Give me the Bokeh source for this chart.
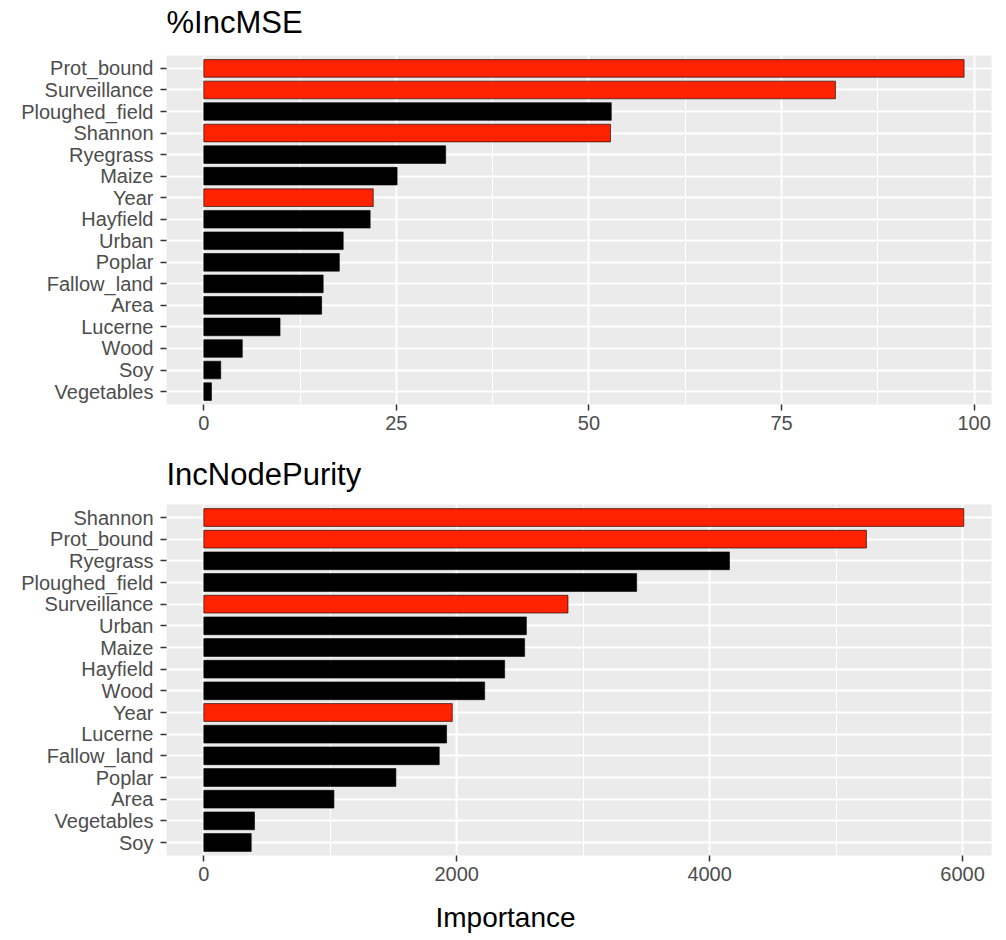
from bokeh.plotting import figure
from bokeh.layouts import column
from bokeh.models import Range1d, FixedTicker, Title, ColumnDataSource
from bokeh.embed import file_html
from bokeh.resources import INLINE

# Variable importance from the random forest, one panel per measure
mse_vars = ["Prot_bound", "Surveillance", "Ploughed_field", "Shannon", "Ryegrass",
            "Maize", "Year", "Hayfield", "Urban", "Poplar", "Fallow_land", "Area",
            "Lucerne", "Wood", "Soy", "Vegetables"]
mse_vals = [98.7, 82.0, 52.9, 52.8, 31.4, 25.1, 22.0, 21.6, 18.1, 17.6, 15.5, 15.3,
            9.9, 5.0, 2.2, 1.0]

purity_vars = ["Shannon", "Prot_bound", "Ryegrass", "Ploughed_field", "Surveillance",
               "Urban", "Maize", "Hayfield", "Wood", "Year", "Lucerne", "Fallow_land",
               "Poplar", "Area", "Vegetables", "Soy"]
purity_vals = [6010, 5240, 4157, 3423, 2880, 2551, 2537, 2379, 2221, 1965, 1920, 1862,
               1519, 1029, 401, 375]

highlighted = ["Prot_bound", "Surveillance", "Shannon", "Year"]

mse_ticks = [0, 25, 50, 75, 100]
mse_minor = [12.5, 37.5, 62.5, 87.5]
purity_ticks = [0, 2000, 4000, 6000]
purity_minor = [1000, 3000, 5000]

RED = "#FF2200"
FONT = "Liberation Sans"
PANEL_BG = "#EBEBEB"


def gap(px):
    # blank side panel used to push a title away from the plot area
    return Title(text=" ", text_font_size="1px", standoff=px)


def importance_panel(title, names, vals, x_range, major, minor, height, top, bottom,
                     title_gap):
    n = len(names)
    ypos = [n - i for i in range(n)]
    colors = [RED if name in highlighted else "black" for name in names]
    src = ColumnDataSource(dict(y=ypos, v=vals, c=colors, name=names))

    p = figure(width=1006, height=height,
               x_range=Range1d(*x_range), y_range=Range1d(0.4, n + 0.6),
               output_backend="svg", toolbar_location=None,
               min_border_left=166, min_border_right=15,
               min_border_top=top, min_border_bottom=bottom,
               background_fill_color=PANEL_BG, border_fill_color="white",
               outline_line_color=None)

    p.title.text = title
    p.title.text_font = FONT
    p.title.text_font_size = "31px"
    p.title.text_font_style = "normal"
    p.title.text_color = "black"
    p.title.align = "left"
    p.title.vertical_align = "top"
    p.title.standoff = 4
    p.add_layout(gap(title_gap), "above")

    p.hbar(y="y", left=0, right="v", height=0.82, fill_color="c",
           line_color="black", line_width=0.6, source=src)

    p.xaxis.ticker = FixedTicker(ticks=major, minor_ticks=minor)
    p.yaxis.ticker = FixedTicker(ticks=ypos)
    p.yaxis.major_label_overrides = {y: name for y, name in zip(ypos, names)}

    p.xgrid.grid_line_color = "white"
    p.xgrid.grid_line_width = 2
    p.xgrid.minor_grid_line_color = "white"
    p.xgrid.minor_grid_line_width = 1
    p.ygrid.grid_line_color = "white"
    p.ygrid.grid_line_width = 2

    for ax in (p.xaxis, p.yaxis):
        ax.axis_line_color = None
        ax.major_tick_line_color = "#333333"
        ax.major_tick_line_width = 1.5
        ax.major_tick_out = 6
        ax.major_tick_in = 0
        ax.minor_tick_line_color = None
        ax.major_label_text_font = FONT
        ax.major_label_text_font_size = "20px"
        ax.major_label_text_color = "#4D4D4D"
    p.yaxis.major_label_standoff = 7
    p.xaxis.major_label_standoff = 5
    return p


p1 = importance_panel("%IncMSE", mse_vars, mse_vals, (-4.84, 102.26),
                      mse_ticks, mse_minor, 450, 55, 46, 9)
p2 = importance_panel("IncNodePurity", purity_vars, purity_vals, (-295, 6229),
                      purity_ticks, purity_minor, 490, 54, 85, 6)

p2.add_layout(gap(13), "below")
p2.add_layout(Title(text="Importance", align="left", offset=269, standoff=0,
                    vertical_align="bottom",
                    text_font=FONT, text_font_size="28px", text_font_style="normal",
                    text_color="black"), "below")

layout = column(p1, p2, spacing=0)
open("out.html", "w").write(file_html(layout, INLINE))
